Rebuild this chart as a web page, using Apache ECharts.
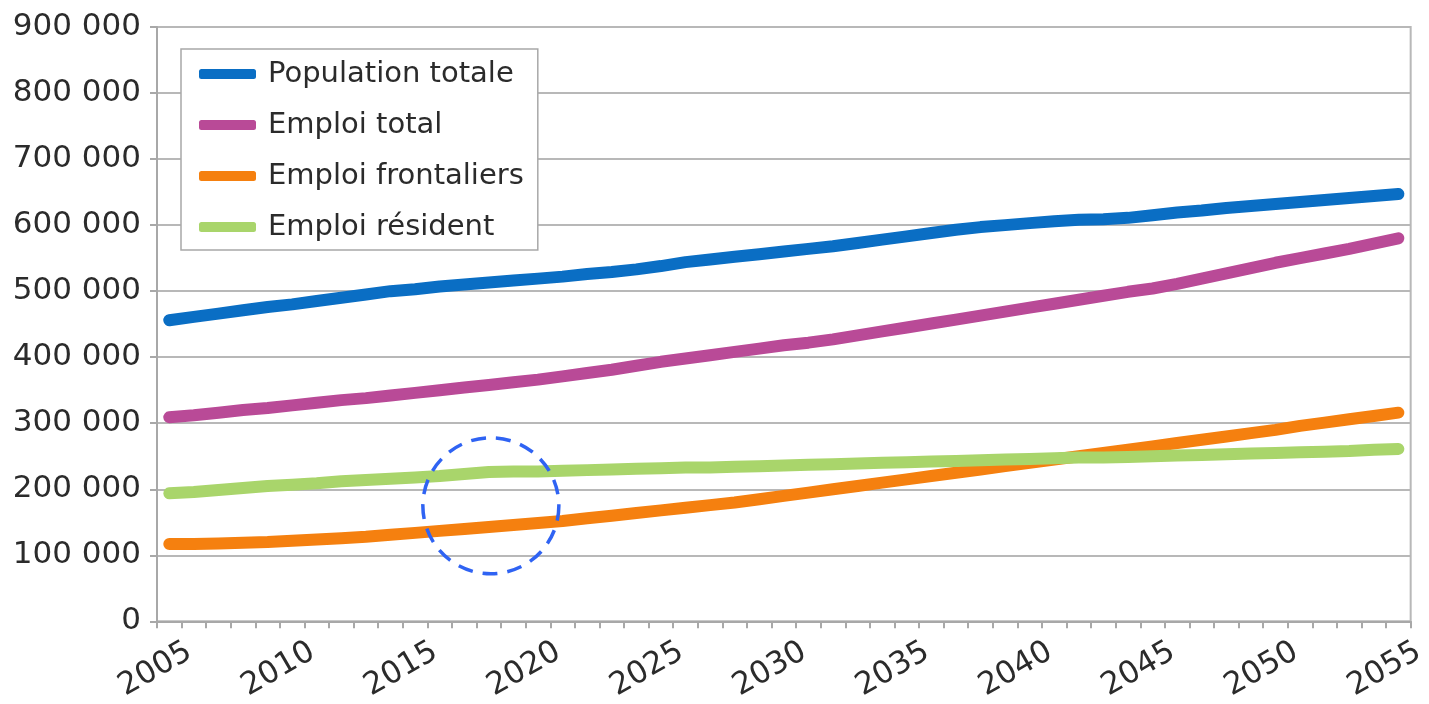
<!DOCTYPE html>
<html>
<head>
<meta charset="utf-8">
<script src="https://cdn.jsdelivr.net/npm/echarts@6/dist/echarts.min.js"></script>
<style>
html,body{margin:0;padding:0;background:#fff;}
#main{width:1429px;height:704px;}
</style>
</head>
<body>
<div id="main"></div>
<script>
// ---- Data ----
const years = [];
for (let y = 2005; y <= 2055; y++) years.push(String(y));

const seriesNames = ['Population totale', 'Emploi total', 'Emploi frontaliers', 'Emploi résident'];

const populationTotale = [
  456000, 461000, 466000, 471000, 476000, 480000, 485000, 490000, 495000, 500000,
  503000, 507000, 510000, 513000, 516000, 519000, 522000, 526000, 529000, 533000,
  538000, 544000, 548000, 552000, 556000, 560000, 564000, 568000, 573000, 578000,
  583000, 588000, 593000, 597000, 600000, 603000, 606000, 608000, 609000, 611000,
  615000, 619000, 622000, 626000, 629000, 632000, 635000, 638000, 641000, 644000,
  647000
];
const emploiTotal = [
  309000, 312000, 316000, 320000, 323000, 327000, 331000, 335000, 338000, 342000,
  346000, 350000, 354000, 358000, 362000, 366000, 371000, 376000, 381000, 387000,
  393000, 398000, 403000, 408000, 413000, 418000, 422000, 427000, 433000, 439000,
  445000, 451000, 457000, 463000, 469000, 475000, 481000, 487000, 493000, 499000,
  504000, 511000, 519000, 527000, 535000, 543000, 550000, 557000, 564000, 572000,
  580000
];
const emploiFrontaliers = [
  117000, 117000, 118000, 119000, 120000, 122000, 124000, 126000, 128000, 131000,
  134000, 137000, 140000, 143000, 146000, 149000, 152000, 156000, 160000, 164000,
  168000, 172000, 176000, 180000, 185000, 190000, 195000, 200000, 205000, 210000,
  215000, 220000, 225000, 230000, 235000, 240000, 245000, 250000, 255000, 260000,
  265000, 270000, 275000, 280000, 285000, 290000, 296000, 301000, 306000, 311000,
  316000
];
const emploiResident = [
  194000, 196000, 199000, 202000, 205000, 207000, 209000, 212000, 214000, 216000,
  218000, 220000, 223000, 226000, 227000, 227000, 228000, 229000, 230000, 231000,
  232000, 233000, 233000, 234000, 235000, 236000, 237000, 238000, 239000, 240000,
  241000, 242000, 243000, 244000, 245000, 246000, 247000, 248000, 248000, 249000,
  250000, 251000, 252000, 253000, 254000, 255000, 256000, 257000, 258000, 260000,
  261000
];
const seriesData = [populationTotale, emploiTotal, emploiFrontaliers, emploiResident];
const colors = ['#0a6ec4', '#b94a97', '#f5800f', '#a9d56b'];

// y-axis ticks
const yMin = 0, yMax = 900000, yInterval = 100000;

// annotation (dashed circle) anchored in data space
const circleYear = '2018';
const circleValue = 175000;

const FONT = 'DejaVu Sans';

const chart = echarts.init(document.getElementById('main'), null, {renderer: 'canvas'});

const option = {
  animation: false,
  backgroundColor: '#ffffff',
  grid: {
    left: 157, right: 15, top: 27, bottom: 82,
    show: true, borderColor: '#b8b8b8', borderWidth: 2, backgroundColor: 'transparent'
  },
  legend: {
    orient: 'vertical',
    left: 181, top: 49,
    padding: [9, 14, 7, 18],
    itemGap: 19,
    itemWidth: 57,
    itemHeight: 10,
    icon: 'roundRect',
    backgroundColor: '#ffffff',
    borderColor: '#a8a8a8',
    borderWidth: 1.5,
    data: seriesNames,
    textStyle: { fontFamily: FONT, fontSize: 29, color: '#2b2b2b', padding: [0, 0, 0, 7], lineHeight: 32 },
    selectedMode: false
  },
  xAxis: {
    type: 'category',
    data: years,
    boundaryGap: true,
    axisLine: { lineStyle: { color: '#a8a8a8', width: 2 } },
    axisTick: { show: true, interval: 0, length: 7, lineStyle: { color: '#a8a8a8', width: 2 } },
    axisLabel: {
      interval: 4, rotate: 30, margin: 40,
      align: 'center', padding: [0, 32, 0, 0],
      fontFamily: FONT, fontSize: 31, color: '#2b2b2b'
    },
    splitLine: { show: false }
  },
  yAxis: {
    type: 'value',
    min: yMin, max: yMax, interval: yInterval,
    axisLine: { show: true, lineStyle: { color: '#a8a8a8', width: 2 } },
    axisTick: { show: true, length: 7, lineStyle: { color: '#a8a8a8', width: 2 } },
    axisLabel: {
      margin: 16,
      fontFamily: FONT, fontSize: 31, color: '#2b2b2b',
      formatter: v => String(v).replace(/\B(?=(\d{3})+(?!\d))/g, ' ')
    },
    splitLine: { show: true, lineStyle: { color: '#b8b8b8', width: 2 } }
  },
  series: seriesNames.map((name, i) => ({
    name,
    type: 'line',
    data: seriesData[i],
    symbol: 'none',
    smooth: false,
    color: colors[i],
    lineStyle: { width: 12, color: colors[i], cap: 'round', join: 'round' },
    emphasis: { disabled: true }
  }))
};
chart.setOption(option);

const c = chart.convertToPixel({xAxisIndex: 0, yAxisIndex: 0}, [circleYear, circleValue]);
chart.setOption({
  graphic: [{
    type: 'circle',
    shape: { cx: c[0] + 2, cy: c[1], r: 68 },
    style: { fill: 'none', stroke: '#2f63f3', lineWidth: 3.5, lineDash: [15, 10] },
    z: 100
  }]
});
</script>
</body>
</html>
